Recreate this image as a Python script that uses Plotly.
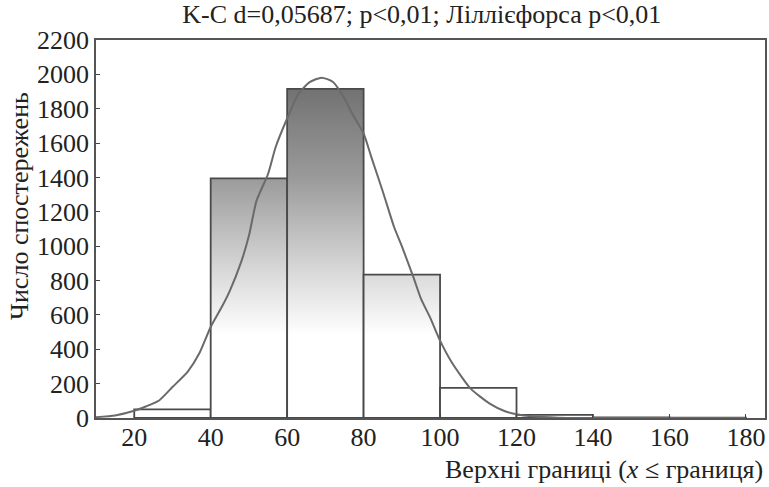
import plotly.graph_objects as go

# histogram bins (upper bounds) and observed counts
bin_lo = [20, 40, 60, 80, 100, 120, 140, 160]
bin_hi = [40, 60, 80, 100, 120, 140, 160, 180]
counts = [50, 1395, 1915, 835, 175, 18, 3, 2]

# expected normal curve
curve_x = [10, 15, 20, 23, 26.5, 30, 34, 37, 40, 43, 45, 48, 50, 52, 55, 57, 60,
           63, 66, 69, 72, 75, 77, 80, 82, 85, 88, 90, 93, 95, 97.5, 100, 103,
           108, 113, 117, 120, 124, 131, 140, 160, 180]
curve_y = [5, 15, 42, 67, 102, 180, 270, 375, 530, 650, 740, 910, 1060, 1265,
           1420, 1577, 1743, 1888, 1956, 1981, 1956, 1860, 1772, 1656, 1520,
           1320, 1110, 1000, 821, 695, 580, 450, 326, 171, 84, 39, 22, 10, 2,
           0, 0, 0]

x_ticks = [20, 40, 60, 80, 100, 120, 140, 160, 180]
y_ticks = list(range(0, 2201, 200))

title_text = "K-C d=0,05687; p<0,01; Ліллієфорса p<0,01"
y_title = "Число спостережень"
x_title = "Верхні границі (<i>x</i> ≤ границя)"

FONT = "Liberation Serif"
grad = dict(type="vertical",
            colorscale=[[0, "#ffffff"], [0.25, "#dadada"], [0.64, "#9a9a9a"], [1, "#727272"]],
            start=480, stop=1920)

fig = go.Figure()

for lo, hi, c in zip(bin_lo, bin_hi, counts):
    fig.add_trace(go.Scatter(
        x=[lo, lo, hi, hi, lo], y=[0, c, c, 0, 0],
        mode="lines", fill="toself", fillgradient=grad,
        line=dict(color="#4a4a4a", width=1.8),
        hoverinfo="skip", showlegend=False))

fig.add_trace(go.Scatter(
    x=curve_x, y=curve_y, mode="lines",
    line=dict(color="#6a6a6a", width=2, shape="spline", smoothing=0.6),
    hoverinfo="skip", showlegend=False))

tickfont = dict(family=FONT, size=26, color="#222")
fig.update_xaxes(range=[10, 185], tickvals=x_ticks, ticks="inside", ticklen=4,
                 tickcolor="#444", showgrid=False, zeroline=False,
                 showline=True, mirror=True, linecolor="#555", linewidth=1.6,
                 tickfont=tickfont, ticklabelstandoff=-5)
fig.update_yaxes(range=[0, 2200], tickvals=y_ticks, ticks="inside", ticklen=4,
                 tickcolor="#444", showgrid=False, zeroline=False,
                 showline=True, mirror=True, linecolor="#555", linewidth=1.6,
                 tickfont=tickfont)

fig.update_layout(
    width=769, height=487,
    margin=dict(l=96, r=2, t=40, b=69),
    plot_bgcolor="white", paper_bgcolor="white",
    title=dict(text=title_text, x=0.487, xref="paper", y=0.971, yref="container",
               xanchor="center", yanchor="middle",
               font=dict(family=FONT, size=26, color="#222")),
    annotations=[
        dict(text=y_title, textangle=-90, xref="paper", yref="paper",
             x=0, y=0.561, xshift=-76, xanchor="center", yanchor="middle",
             showarrow=False, font=dict(family=FONT, size=26, color="#222")),
        dict(text=x_title, xref="paper", yref="paper", x=1, y=0,
             xanchor="right", yanchor="middle", yshift=-51, showarrow=False,
             font=dict(family=FONT, size=26, color="#222")),
    ],
)

fig.write_html("out.html", config={"displayModeBar": False},
               post_script="document.body.style.margin='0';")
